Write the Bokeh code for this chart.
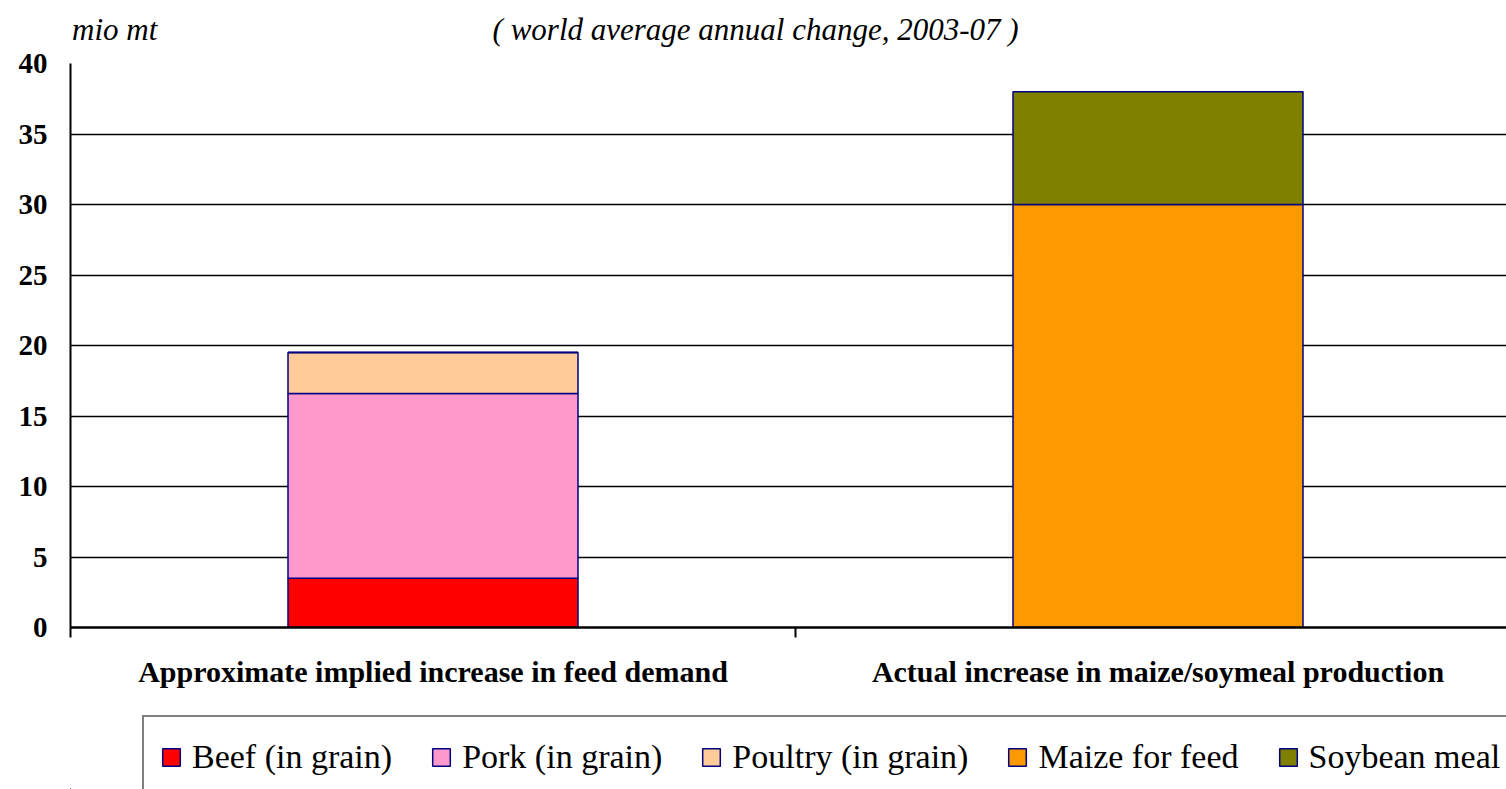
from bokeh.plotting import figure
from bokeh.layouts import column
from bokeh.models import (Range1d, FixedTicker, Legend, LegendItem,
                          ColumnDataSource, LinearAxis)
from bokeh.embed import file_html
from bokeh.resources import INLINE

categories = ["Approximate implied increase in feed demand",
              "Actual increase in maize/soymeal production"]
series_names = ["Beef (in grain)", "Pork (in grain)", "Poultry (in grain)",
                "Maize for feed", "Soybean meal"]
beef = [3.5, 0]
pork = [13.1, 0]
poultry = [2.9, 0]
maize = [0, 30.0]
soymeal = [0, 8.0]
colors = ["#FF0000", "#FF99CC", "#FFCC99", "#FF9900", "#808000"]
y_ticks = [0, 5, 10, 15, 20, 25, 30, 35, 40]
unit_text = "mio mt"
subtitle_text = "( world average annual change, 2003-07 )"

FONT = "Liberation Serif"
OUTLINE = "#000080"

p = figure(width=1506, height=715, output_backend="svg", toolbar_location=None,
           x_range=Range1d(0, 1.9807), y_range=Range1d(0, 40),
           min_border_left=70, min_border_right=0, min_border_top=63,
           min_border_bottom=88)
p.outline_line_color = None
p.background_fill_color = "white"
p.border_fill_color = "white"

# legend strip (separate canvas so the legend can run past the edges)
q = figure(width=1506, height=74, output_backend="svg", toolbar_location=None,
           x_range=Range1d(2.5, 3.5), y_range=Range1d(100, 140),
           x_axis_location=None, y_axis_location=None,
           min_border_left=0, min_border_right=0, min_border_top=0,
           min_border_bottom=0)
q.grid.visible = False
q.outline_line_color = None
q.background_fill_color = "white"
q.border_fill_color = "white"

xc = [0.5, 1.5]
series = [beef, pork, poultry, maize, soymeal]
bottoms = [0.0, 0.0]
items = []
for name, vals, col in zip(series_names, series, colors):
    tops = [b + v for b, v in zip(bottoms, vals)]
    src = ColumnDataSource(dict(x=xc, bottom=bottoms, top=tops))
    p.vbar(x="x", width=0.4, bottom="bottom", top="top", source=src,
           fill_color=col, line_color=OUTLINE, line_width=1.5)
    # same bars on the legend strip, outside its visible ranges
    r = q.vbar(x="x", width=0.4, bottom="bottom", top="top", source=src,
               fill_color=col, line_color=OUTLINE, line_width=1.5)
    items.append(LegendItem(label=name, renderers=[r]))
    bottoms = tops

# bottom category axis
p.xaxis.ticker = FixedTicker(ticks=xc, minor_ticks=[0, 1, 2])
p.xaxis.major_label_overrides = {0.5: categories[0], 1.5: categories[1]}
p.xaxis.major_tick_line_color = None
p.xaxis.major_tick_out = 0
p.xaxis.major_tick_in = 0
p.xaxis.minor_tick_line_color = "black"
p.xaxis.minor_tick_line_width = 2
p.xaxis.minor_tick_out = 10
p.xaxis.minor_tick_in = 0
p.xaxis.axis_line_color = "black"
p.xaxis.axis_line_width = 2.5
p.xaxis.major_label_text_font = FONT
p.xaxis.major_label_text_font_style = "bold"
p.xaxis.major_label_text_font_size = "30px"
p.xaxis.major_label_text_color = "black"
p.xaxis.major_label_standoff = 17

# y axis
p.yaxis.ticker = FixedTicker(ticks=y_ticks)
p.yaxis.major_tick_line_color = None
p.yaxis.major_tick_out = 0
p.yaxis.major_tick_in = 0
p.yaxis.minor_tick_line_color = None
p.yaxis.axis_line_color = "black"
p.yaxis.axis_line_width = 2
p.yaxis.major_label_text_font = FONT
p.yaxis.major_label_text_font_style = "bold"
p.yaxis.major_label_text_font_size = "29px"
p.yaxis.major_label_text_color = "black"
p.yaxis.major_label_standoff = 23

p.xgrid.grid_line_color = None
p.ygrid.ticker = FixedTicker(ticks=y_ticks)
p.ygrid.grid_line_color = "black"
p.ygrid.grid_line_width = 1.5

# top texts as an axis of labels
top_axis = LinearAxis(ticker=FixedTicker(ticks=[0.061, 0.945]),
                      major_label_overrides={0.061: unit_text, 0.945: subtitle_text},
                      axis_line_color=None, major_tick_line_color=None,
                      minor_tick_line_color=None, major_tick_out=0, major_tick_in=0,
                      major_label_standoff=17,
                      major_label_text_font=FONT, major_label_text_font_style="italic",
                      major_label_text_font_size="31px", major_label_text_color="black")
p.add_layout(top_axis, "above")

legend = Legend(items=items, orientation="horizontal", location=(72, -10),
                label_text_font=FONT, label_text_font_size="34px",
                label_text_color="black", glyph_width=22, glyph_height=22,
                label_height=48, label_standoff=10, spacing=38, padding=16,
                margin=0,
                border_line_color="black", border_line_width=2,
                background_fill_color="white", background_fill_alpha=1.0)
q.add_layout(legend, "center")

open("out.html", "w").write(file_html(column(p, q, spacing=0), INLINE))
